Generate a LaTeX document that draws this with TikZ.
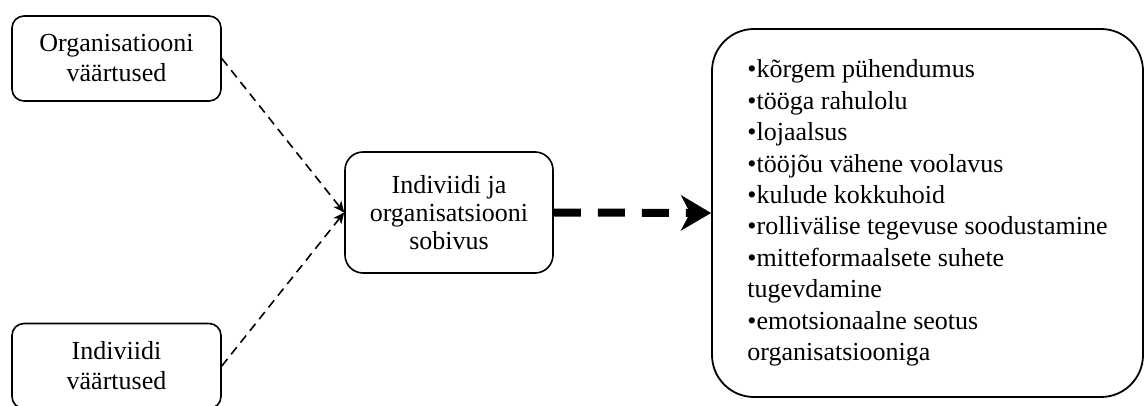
\documentclass[tikz,border=0pt]{standalone}
\usepackage{fontspec}
\setmainfont{Liberation Serif}
\usetikzlibrary{arrows.meta}
\begin{document}
\begin{tikzpicture}[x=1pt,y=-1pt,
  box/.style={draw, line width=1.6pt, rounded corners=12pt, align=center,
    inner sep=0pt, font=\fontsize{26}{30}\selectfont},
  thinarrow/.style={line width=1.6pt, dash pattern=on 9pt off 6pt,
    -{Stealth[length=11pt,width=10pt,inset=3pt]}},
  bigarrow/.style={line width=8pt, dash pattern=on 27pt off 17pt,
    -{Stealth[length=30pt,width=35pt,inset=9pt]}}]
  \useasboundingbox (0,0) rectangle (1145,406);
  % source boxes
  \node[box, minimum width=209pt, minimum height=85pt] (org) at (116.5,58.5)
    {Organisatiooni\\väärtused};
  \node[box, minimum width=209pt, minimum height=85pt] (ind) at (116.5,366)
    {Indiviidi\\väärtused};
  % fit box
  \node[box, rounded corners=18pt, minimum width=208pt, minimum height=121pt,
    font=\fontsize{26}{28}\selectfont] (fit) at (449,212.5)
    {Indiviidi ja\\organisatsiooni\\sobivus};
  % outcomes box
  \node[box, rounded corners=42pt, line width=1.8pt, align=left,
    minimum width=431pt, minimum height=368pt,
    font=\fontsize{26}{31.45}\selectfont] (out) at (927.5,213)
    {\textbullet kõrgem pühendumus\\
     \textbullet tööga rahulolu\\
     \textbullet lojaalsus\\
     \textbullet tööjõu vähene voolavus\\
     \textbullet kulude kokkuhoid\\
     \textbullet rollivälise tegevuse soodustamine\\
     \textbullet mitteformaalsete suhete\\
     tugevdamine\\
     \textbullet emotsionaalne seotus\\
     organisatsiooniga};
  % connectors
  \draw[thinarrow] (org.east) -- (fit.west);
  \draw[thinarrow] (ind.east) -- (fit.west);
  \draw[bigarrow] (fit.east) -- (out.west);
\end{tikzpicture}
\end{document}
